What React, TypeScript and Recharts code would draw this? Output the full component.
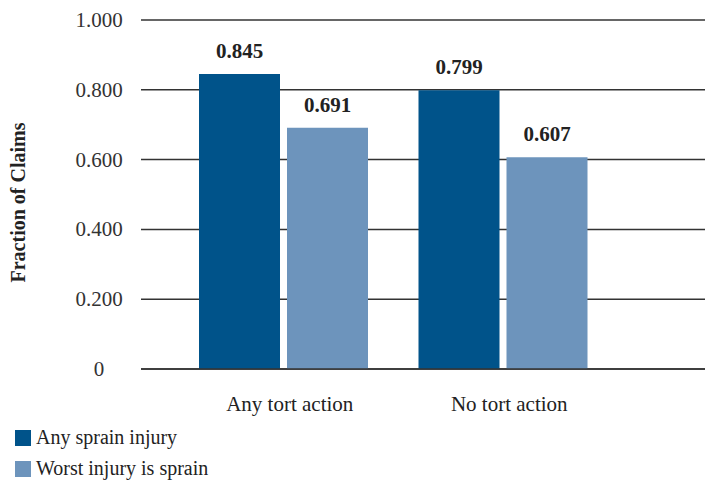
import React from "react";
import { BarChart, Bar, XAxis, YAxis, CartesianGrid, LabelList, Legend } from "recharts";

const categories = ["Any tort action", "No tort action"];
const anySprain = [0.845, 0.799];
const worstSprain = [0.691, 0.607];
const yTicks = [0, 0.2, 0.4, 0.6, 0.8, 1.0];

const seriesNames = ["Any sprain injury", "Worst injury is sprain"];
const DARK = "#00538A";
const LIGHT = "#6D94BC";
const FONT = "'Liberation Serif', 'Times New Roman', serif";

const data = categories.map((c, i) => ({
  name: c,
  any: anySprain[i],
  worst: worstSprain[i],
}));

const fmtTick = (v: number) => (v === 0 ? "0" : v.toFixed(3));

function YTick(props: any) {
  const { x, y, payload } = props;
  return (
    <text x={x} y={y} textAnchor="middle" dominantBaseline="central" fill="#333" fontSize={21} fontFamily={FONT}>
      {fmtTick(payload.value)}
    </text>
  );
}

function XTick(props: any) {
  const { x, y, payload } = props;
  return (
    <text x={x + 6} y={y} textAnchor="middle" dy="0.71em" fill="#222" fontSize={21} fontFamily={FONT}>
      {payload.value}
    </text>
  );
}

function YLabel(props: any) {
  const vb = props.viewBox || {};
  const cx = (vb.x || 0) + 18;
  const cy = (vb.y || 0) + (vb.height || 0) / 2 + 8;
  return (
    <text x={cx} y={cy} transform={`rotate(-90 ${cx} ${cy})`} textAnchor="middle" dominantBaseline="central"
      fill="#222" fontSize={20} fontWeight="bold" fontFamily={FONT}>
      Fraction of Claims
    </text>
  );
}

function LegendBox(props: any) {
  const items = props.payload || [];
  return (
    <div style={{ fontFamily: FONT, fontSize: 20, color: "#222" }}>
      {items.map((it: any) => (
        <div key={it.value} style={{ display: "flex", alignItems: "center", height: 31 }}>
          <span style={{ display: "inline-block", width: 16, height: 16, background: it.color, marginRight: 5 }} />
          <span>{it.value}</span>
        </div>
      ))}
    </div>
  );
}

export default function App() {
  return (
    <div style={{ width: 705, height: 483, background: "#fff" }}>
      <style>{`body{margin:0}`}</style>
      <BarChart width={705} height={483} data={data} margin={{ top: 20, right: 0, bottom: 0, left: 0 }}
        barSize={81} barGap={7}>
        <CartesianGrid vertical={false} stroke="#333" strokeWidth={1.5} />
        <XAxis dataKey="name" height={114} padding={{ left: 33, right: 92 }} tickLine={false} tickSize={0}
          tickMargin={27} axisLine={{ stroke: "#333", strokeWidth: 1.5 }} tick={<XTick />} interval={0} />
        <YAxis width={141} domain={[0, 1]} ticks={yTicks} axisLine={false} tickLine={false} tickSize={0}
          tickMargin={42} tick={<YTick />} label={{ content: <YLabel /> }} />
        <Legend layout="vertical" align="center" verticalAlign="middle"
          wrapperStyle={{ left: 15, top: 422, width: 300 }} content={<LegendBox />} />
        <Bar dataKey="any" name={seriesNames[0]} fill={DARK} isAnimationActive={false}>
          <LabelList dataKey="any" position="top" offset={16} formatter={(v: any) => Number(v).toFixed(3)}
            fill="#222" fontSize={21} fontWeight="bold" fontFamily={FONT} />
        </Bar>
        <Bar dataKey="worst" name={seriesNames[1]} fill={LIGHT} isAnimationActive={false}>
          <LabelList dataKey="worst" position="top" offset={16} formatter={(v: any) => Number(v).toFixed(3)}
            fill="#222" fontSize={21} fontWeight="bold" fontFamily={FONT} />
        </Bar>
      </BarChart>
    </div>
  );
}
